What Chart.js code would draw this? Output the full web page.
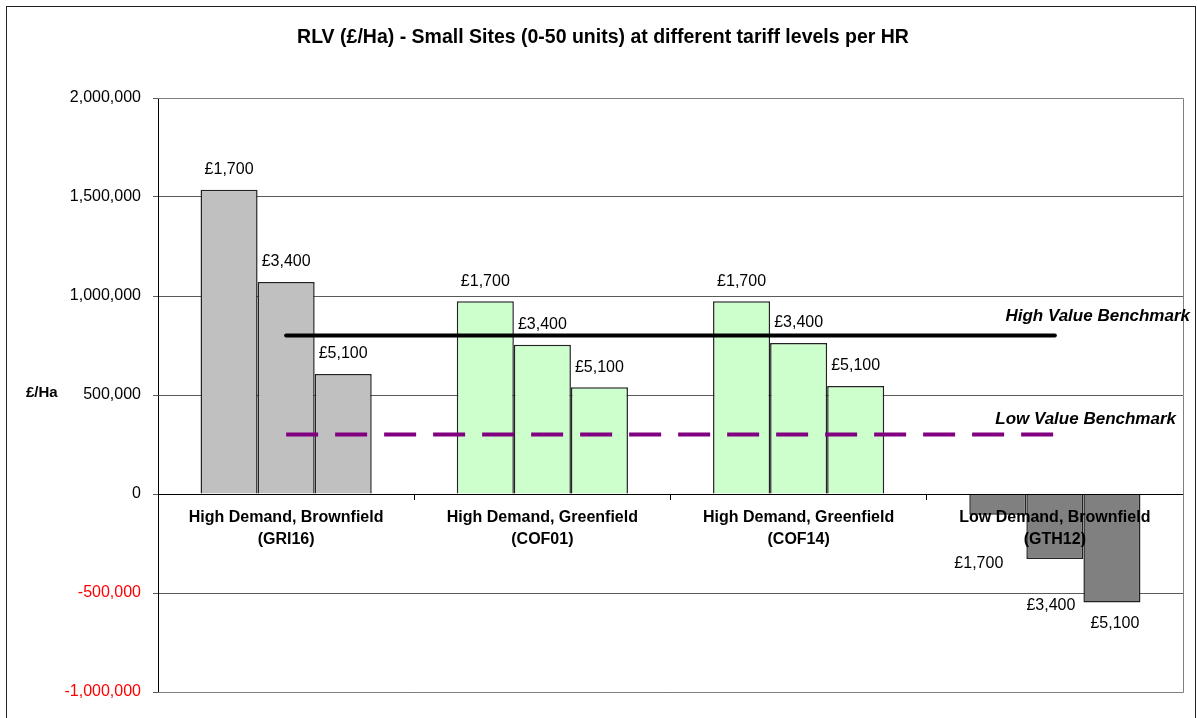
<!DOCTYPE html>
<html>
<head>
<meta charset="utf-8">
<script src="https://cdn.jsdelivr.net/npm/chart.js@4.4.1/dist/chart.umd.min.js"></script>
<style>
  html, body { margin: 0; background: #fff; }
  #wrap { position: relative; width: 1197px; height: 718px; }
</style>
</head>
<body>
<div id="wrap"><canvas id="rlv-chart"></canvas></div>
<script>
// data
const categories = [
  ['High Demand, Brownfield', '(GRI16)'],
  ['High Demand, Greenfield', '(COF01)'],
  ['High Demand, Greenfield', '(COF14)'],
  ['Low Demand, Brownfield', '(GTH12)']
]
const tariffs = ['£1,700', '£3,400', '£5,100']
const rlv1700 = [1536000, 973000, 973000, -105000]
const rlv3400 = [1071000, 754000, 763000, -328000]
const rlv5100 = [606000, 539000, 546000, -548000]
const highBenchmark = [800000, 800000, 800000, 800000]
const lowBenchmark  = [300000, 300000, 300000, 300000]
const yTicks = [-1000000, -500000, 0, 500000, 1000000, 1500000, 2000000]

const FONT = '"Liberation Sans", Arial, sans-serif'
const groupColors = ['#C0C0C0', '#CCFFCC', '#CCFFCC', '#808080']
// hand-moved labels under the negative bars (dx, dy from bar end)
const negLabelShift = [[-19, 49], [-4, 47], [3, 21]]

const fmt = v => v.toLocaleString('en-GB')

const decor = {
  id: 'decor',
  beforeDraw(chart) {
    const { ctx, chartArea: a } = chart
    ctx.save()
    ctx.fillStyle = '#fff'
    ctx.fillRect(0, 0, chart.width, chart.height)
    ctx.strokeStyle = '#222'
    ctx.lineWidth = 1
    ctx.strokeRect(6.5, 6.5, 1189, 730)
    ctx.fillStyle = '#000'
    ctx.textAlign = 'center'
    ctx.textBaseline = 'middle'
    ctx.font = 'bold 19.5px ' + FONT
    ctx.fillText('RLV (£/Ha) - Small Sites (0-50 units) at different tariff levels per HR', 603, 38)
    ctx.font = 'bold 15px ' + FONT
    ctx.textAlign = 'left'
    ctx.fillText('£/Ha', 26, (a.top + a.bottom) / 2 - 2)
    ctx.restore()
  },
  afterDraw(chart) {
    const { ctx, chartArea: a, scales } = chart
    ctx.save()
    ctx.strokeStyle = '#808080'
    ctx.lineWidth = 1
    ctx.beginPath()
    ctx.moveTo(a.left, Math.round(a.top) + 0.5)
    ctx.lineTo(Math.round(a.right) + 0.5, Math.round(a.top) + 0.5)
    ctx.lineTo(Math.round(a.right) + 0.5, Math.round(a.bottom) + 0.5)
    ctx.lineTo(a.left, Math.round(a.bottom) + 0.5)
    ctx.stroke()

    // value labels
    ctx.font = '16px ' + FONT
    ctx.fillStyle = '#000'
    ctx.textAlign = 'center'
    ctx.textBaseline = 'middle'
    for (let d = 0; d < 3; d++) {
      const meta = chart.getDatasetMeta(d)
      meta.data.forEach((bar, i) => {
        const v = chart.data.datasets[d].data[i]
        if (v >= 0) ctx.fillText(tariffs[d], bar.x, bar.y - 20)
        else ctx.fillText(tariffs[d], bar.x + negLabelShift[d][0], bar.y + negLabelShift[d][1])
      })
    }

    // benchmark captions
    ctx.font = 'italic bold 17px ' + FONT
    ctx.textAlign = 'right'
    ctx.fillText('High Value Benchmark', a.right + 7, scales.y.getPixelForValue(highBenchmark[3]) - 19)
    ctx.fillText('Low Value Benchmark', a.right - 7, scales.y.getPixelForValue(lowBenchmark[3]) - 15)
    ctx.restore()
  }
}

const barSet = (label, data) => ({
  type: 'bar', label, data, order: 2,
  backgroundColor: groupColors, borderColor: '#222', borderWidth: 1.5,
  categoryPercentage: 0.668, barPercentage: 1
})

new Chart(document.getElementById('rlv-chart'), {
  data: {
    labels: categories,
    datasets: [
      barSet(tariffs[0], rlv1700),
      barSet(tariffs[1], rlv3400),
      barSet(tariffs[2], rlv5100),
      { type: 'line', label: 'High Value Benchmark', data: highBenchmark, order: 1,
        borderColor: '#000', borderWidth: 4, borderCapStyle: 'round', pointRadius: 0, fill: false },
      { type: 'line', label: 'Low Value Benchmark', data: lowBenchmark, order: 1,
        borderColor: '#800080', borderWidth: 4, borderDash: [32, 17], pointRadius: 0, fill: false }
    ]
  },
  options: {
    responsive: true, maintainAspectRatio: false, animation: false,
    layout: { padding: { top: 98, bottom: 26, left: 8, right: 14 } },
    plugins: { legend: { display: false }, title: { display: false }, tooltip: { enabled: false } },
    scales: {
      x: {
        position: { y: 0 }, offset: true,
        grid: { display: true, drawOnChartArea: false, drawTicks: true, tickLength: 5, color: '#000' },
        border: { display: true, color: '#000', width: 1, z: 1 },
        ticks: { z: 1, color: '#000', padding: 8, maxRotation: 0, autoSkip: false,
          font: { family: FONT, size: 16, weight: 'bold', lineHeight: 1.375 } }
      },
      y: {
        min: yTicks[0], max: yTicks[yTicks.length - 1],
        afterBuildTicks: s => { s.ticks = yTicks.map(v => ({ value: v })) },
        afterFit: s => { s.width = 150 },
        grid: { color: '#5a5a5a', lineWidth: 1, tickLength: 5 },
        border: { display: true, color: '#000' },
        ticks: {
          padding: 12,
          font: { family: FONT, size: 16 },
          color: c => c.tick.value < 0 ? '#FF0000' : '#000',
          callback: v => fmt(v)
        }
      }
    }
  },
  plugins: [decor]
})
</script>
</body>
</html>
